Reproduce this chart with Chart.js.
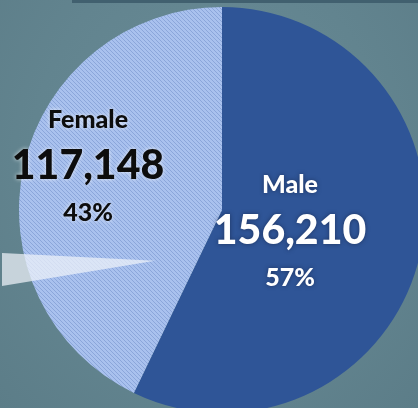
<!DOCTYPE html>
<html>
<head>
<meta charset="utf-8">
<script src="https://cdn.jsdelivr.net/npm/chart.js@4.4.1/dist/chart.umd.min.js"></script>
<style>
  html, body { margin: 0; padding: 0; }
  body {
    width: 418px; height: 408px; overflow: hidden; position: relative;
    background: radial-gradient(ellipse at 50% 40%, #6a8c97 0%, #62848f 60%, #5c7d88 100%);
  }
  #topline { position: absolute; left: 72px; top: 0; width: 346px; height: 3px; background: #41606f; }
  #wrap { position: absolute; left: 2px; top: -10px; width: 440px; height: 440px; }
</style>
</head>
<body>
<div id="topline"></div>
<div id="wrap"><canvas id="genderChart"></canvas></div>
<script>
// data
const categories = ['Male', 'Female'];
const counts = [156210, 117148];
const percents = ['57%', '43%'];

// hatched light blue fill for the Female slice
const makeHatch = () => {
  const c = document.createElement('canvas');
  c.width = 4; c.height = 4;
  const g = c.getContext('2d');
  g.fillStyle = '#a9c1ee';
  g.fillRect(0, 0, 4, 4);
  g.strokeStyle = '#8ba6da';
  g.lineWidth = 1;
  g.beginPath();
  g.moveTo(0, 0); g.lineTo(4, 4);
  g.moveTo(-1, 3); g.lineTo(1, 5);
  g.moveTo(3, -1); g.lineTo(5, 1);
  g.stroke();
  return g.createPattern(c, 'repeat');
};

const sliceLabels = {
  id: 'sliceLabels',
  afterDatasetsDraw(chart) {
    const ctx = chart.ctx;
    const arcs = chart.getDatasetMeta(0).data;
    const cx = arcs[0].x, cy = arcs[0].y, r = arcs[0].outerRadius;

    // translucent callout wedge pointing into the Female slice
    ctx.save();
    ctx.fillStyle = 'rgba(238,243,250,0.72)';
    ctx.beginPath();
    ctx.moveTo(cx - 0.33 * r, cy + 0.25 * r);
    ctx.lineTo(cx - 1.12 * r, cy + 0.21 * r);
    ctx.lineTo(cx - 1.12 * r, cy + 0.38 * r);
    ctx.closePath();
    ctx.fill();
    ctx.restore();

    // title baseline of each label block, as a fraction of the radius
    const anchors = [[0.335, -0.084], [-0.66, -0.405]];
    const styles = [
      { color: '#ffffff', shadow: 'rgba(20,30,60,0.6)' },
      { color: '#0d0d0d', shadow: 'rgba(255,255,255,0.75)' }
    ];
    const fam = 'Lato, "Open Sans", sans-serif';

    arcs.forEach((arc, i) => {
      const x = cx + anchors[i][0] * r;
      const y = cy + anchors[i][1] * r;
      ctx.save();
      ctx.textAlign = 'center';
      ctx.textBaseline = 'alphabetic';
      ctx.fillStyle = styles[i].color;
      ctx.shadowColor = styles[i].shadow;
      ctx.shadowBlur = 4;
      ctx.font = '900 25px ' + fam;
      ctx.fillText(categories[i], x, y);
      ctx.font = '900 41px ' + fam;
      ctx.fillText(counts[i].toLocaleString('en-US'), x, y + 51);
      ctx.font = '900 25px ' + fam;
      ctx.fillText(percents[i], x, y + 93);
      ctx.restore();
    });
  }
};

new Chart(document.getElementById('genderChart'), {
  type: 'pie',
  data: {
    labels: categories,
    datasets: [{
      data: counts,
      backgroundColor: ['#2f5597', makeHatch()],
      borderWidth: 0
    }]
  },
  options: {
    responsive: true,
    maintainAspectRatio: false,
    animation: false,
    layout: { padding: 17 },
    plugins: {
      legend: { display: false },
      tooltip: { enabled: false }
    }
  },
  plugins: [sliceLabels]
});
</script>
</body>
</html>
